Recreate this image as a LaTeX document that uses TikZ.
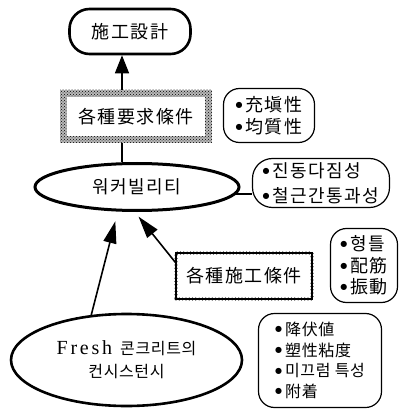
\documentclass[tikz,border=0pt]{standalone}
\usepackage{fontspec}
\usetikzlibrary{arrows.meta,patterns,calc,shapes.geometric}
\newfontfamily\cjk[LetterSpace=8]{Noto Sans CJK KR}
\newfontfamily\cjks[LetterSpace=4]{Noto Sans CJK KR}
\newfontfamily\lat[LetterSpace=14,Scale=1.25]{Liberation Serif}
\newfontfamily\dvs{DejaVu Sans}
\newcommand{\bul}{\raisebox{3.8pt}{\dvs\fontsize{8}{8}\selectfont ●}\hspace{3pt}}
\tikzset{
  mainfont/.style={font=\cjk\fontsize{18}{20}\selectfont},
  topbox/.style={draw, line width=2.6pt, rounded corners=20pt, minimum width=121pt, minimum height=45pt, inner sep=0pt, mainfont},
  reqbox/.style={preaction={fill=black!28}, pattern=crosshatch dots, minimum width=152pt, minimum height=53pt, inner sep=0pt, mainfont,
     path picture={\fill[white] ($(path picture bounding box.south west)+(7pt,7pt)$) rectangle ($(path picture bounding box.north east)-(7pt,7pt)$);}},
  beadbox/.style={draw, line width=1.2pt, minimum width=136pt, minimum height=46pt, inner sep=0pt, mainfont,
     postaction={draw, line width=3.2pt, dash pattern=on 0pt off 3.3pt, line cap=round}},
  oval/.style={ellipse, draw, inner sep=0pt},
  bubble/.style={draw, line width=1.2pt, rounded corners=16pt, inner sep=0pt, align=left},
  arr/.style={line width=1.6pt, -{Triangle[length=22pt,width=13pt]}},
  link/.style={line width=1.4pt}
}
\begin{document}
\begin{tikzpicture}[x=1pt,y=-1pt]
\useasboundingbox (0,0) rectangle (400,411);
% nodes
\node[topbox] (design) at (130,31.5) {施工設計};
\node[reqbox] (req) at (136,116.5) {各種要求條件};
\node[bubble, minimum width=91pt, minimum height=54pt, font=\cjk\fontsize{18}{22}\selectfont] (b1) at (269,115.5) {\bul 充塡性\\\bul 均質性};
\node[oval, line width=3pt, minimum width=204pt, minimum height=47pt, mainfont] (work) at (137,187) {워커빌리티};
\node[bubble, minimum width=137pt, minimum height=49pt, rounded corners=20pt, font=\cjk\fontsize{18}{25}\selectfont] (b2) at (321,183) {\bul 진동다짐성\\\bul 철근간통과성};
\node[beadbox] (cond) at (244,276) {各種施工條件};
\node[bubble, minimum width=67pt, minimum height=74pt, font=\cjk\fontsize{18}{21.5}\selectfont] (b3) at (364,265.5) {\bul 형틀\\\bul 配筋\\\bul 振動};
\node[oval, line width=2.6pt, minimum width=231pt, minimum height=92pt, align=center, font=\cjks\fontsize{16}{23}\selectfont] (fresh) at (126.5,360) {{\lat Fresh}\hspace{8pt}콘크리트의\\컨시스턴시};
\node[bubble, minimum width=123pt, minimum height=94pt, font=\cjks\fontsize{16}{20.7}\selectfont] (b4) at (320,360.5) {\bul 降伏値\\\bul 塑性粘度\\\bul 미끄럼 특성\\\bul 附着};
% connectors
\draw[line width=1.6pt, -{Triangle[length=18pt,width=14pt]}] ([xshift=-14pt]req.north) -- ([xshift=-8pt]design.south);
\draw[link] ([xshift=-14pt]req.south) -- ([xshift=-14pt]req.south |- work.north);
\draw[link] ($(req.east)+(0,11)$) -- ($(req.east)+(0,11)$ -| b1.west);
\draw[link] (work.-4) -- (work.-4 -| b2.west);
\draw[link] ($(cond.east)+(0,9)$) -- ($(cond.east)+(0,6)$ -| b3.west);
\draw[link] (fresh.-4.3) -- ($(fresh.-4.3)+(0,-4)$ -| b4.west);
\draw[arr, shorten >=10pt] (fresh.128) -- (work.232);
\draw[arr, shorten >=6pt] ([yshift=-10pt]cond.north west) -- (work.265.5);
\end{tikzpicture}
\end{document}
